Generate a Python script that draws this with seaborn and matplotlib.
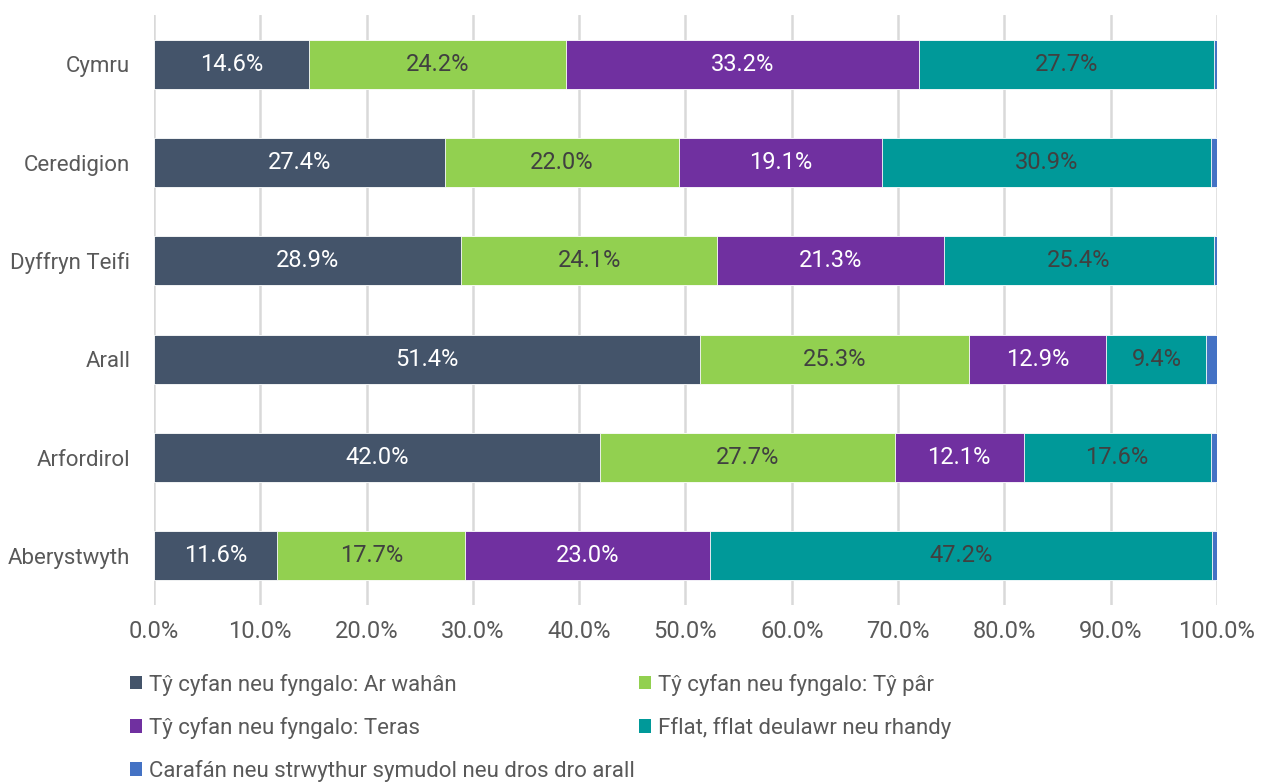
import matplotlib
matplotlib.use("Agg")
import matplotlib.pyplot as plt
from matplotlib.patches import Patch
import numpy as np
import pandas as pd
import seaborn as sns

areas = ["Cymru", "Ceredigion", "Dyffryn Teifi", "Arall", "Arfordirol", "Aberystwyth"]
series = [
    "Tŷ cyfan neu fyngalo: Ar wahân",
    "Tŷ cyfan neu fyngalo: Tŷ pâr",
    "Tŷ cyfan neu fyngalo: Teras",
    "Fflat, fflat deulawr neu rhandy",
    "Carafán neu strwythur symudol neu dros dro arall",
]
detached = [14.6, 27.4, 28.9, 51.4, 42.0, 11.6]
semi = [24.2, 22.0, 24.1, 25.3, 27.7, 17.7]
terrace = [33.2, 19.1, 21.3, 12.9, 12.1, 23.0]
flat = [27.7, 30.9, 25.4, 9.4, 17.6, 47.2]
caravan = [0.3, 0.6, 0.5, 1.0, 0.6, 0.5]

colors = ["#44546A", "#92D050", "#7030A0", "#009999", "#4472C4"]
label_colors = ["white", "#404040", "white", "#404040", None]

sns.set_theme(style="white")
plt.rcParams["font.family"] = ["Roboto", "DejaVu Sans"]

values = np.array([detached, semi, terrace, flat, caravan])
cum = np.cumsum(values, axis=0)

fig = plt.figure(figsize=(12.61, 7.82), dpi=100)
ax = fig.add_axes([0.1221, 0.2263, 0.8430, 0.7545])

# stacked bars: draw running totals from the outermost segment inwards
for i in range(len(series) - 1, -1, -1):
    df = pd.DataFrame({"area": areas, "total": cum[i]})
    sns.barplot(data=df, x="total", y="area", orient="h", color=colors[i],
                width=0.5, saturation=1, ax=ax, edgecolor="white", linewidth=0.6)

# segment value labels
for i in range(4):
    for j in range(len(areas)):
        start = cum[i][j] - values[i][j]
        ax.text(start + values[i][j] / 2, j, f"{values[i][j]:.1f}%",
                ha="center", va="center", fontsize=17, color=label_colors[i])

ax.set_xlim(0, 100)
ax.set_ylim(5.5, -0.5)
ax.set_xticks(np.arange(0, 101, 10))
ax.set_xticklabels([f"{v:.1f}%" for v in np.arange(0, 101, 10)])
ax.set_xlabel("")
ax.set_ylabel("")
ax.tick_params(axis="both", length=0, labelcolor="#595959")
ax.tick_params(axis="x", pad=11, labelsize=17)
ax.tick_params(axis="y", pad=17, labelsize=16)
ax.xaxis.grid(True, color="#D9D9D9", linewidth=1.8)
ax.set_axisbelow(True)
for s in ax.spines.values():
    s.set_visible(False)

# legend filled row by row across two columns
order = [0, 2, 4, 1, 3]
handles = [Patch(facecolor=colors[k], edgecolor="none") for k in order]
labels = [series[k] for k in order]
fig.legend(handles, labels, loc="upper left", bbox_to_anchor=(0.096, 0.150),
           ncol=2, frameon=False, fontsize=16, labelcolor="#595959",
           handlelength=0.55, handleheight=0.55, handletextpad=0.3,
           columnspacing=0.2, labelspacing=0.95, borderaxespad=0)

fig.savefig("out.png", dpi=100)
